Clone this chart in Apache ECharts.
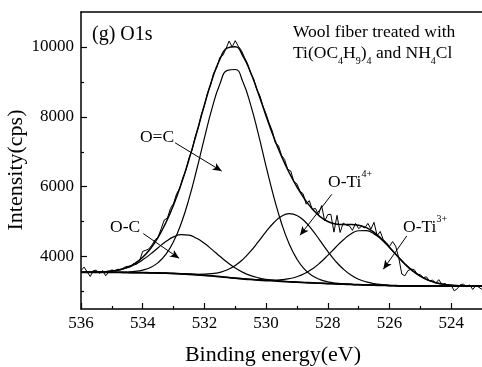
<!DOCTYPE html>
<html>
<head>
<meta charset="utf-8">
<script src="https://cdn.jsdelivr.net/npm/echarts@6/dist/echarts.min.js"></script>
<style>
html,body{margin:0;padding:0;background:#fff;}
#chart{width:482px;height:367px;}
</style>
</head>
<body>
<div id="chart"></div>
<script>
// O1s spectrum: measured counts (0.1 eV steps) and the peak fit (0.25 eV steps)
const rawStart = 536, rawStep = 0.1;
const rawCounts = [
  3600,3700,3560,3430,3600,3610,3520,3600,3450,3560,
  3620,3590,3640,3620,3690,3720,3700,3800,3780,3880,
  4150,4180,4220,4330,4480,4560,4800,5050,5100,5380,
  5520,5800,5950,6250,6470,6820,7050,7420,7680,8060,
  8320,8680,8900,9250,9400,9700,9760,9950,10170,10000,
  10180,10020,9900,9700,9520,9250,9080,8780,8600,8300,
  8080,7820,7600,7250,7180,6900,6780,6500,6450,6150,
  6080,5870,5800,5500,5600,5350,5380,5200,5460,5020,
  5200,5210,4700,5180,4690,4960,4900,4880,4750,4950,
  4800,4870,4820,4950,4790,4980,4600,4720,4480,4400,
  4290,4430,4300,3970,3500,3450,3600,3640,3630,3500,
  3480,3400,3420,3300,3330,3240,3340,3200,3230,3160,
  3180,3020,3080,3200,3210,3140,3190,3060,3170,3120,
  3060
];

const fitStart = 536, fitStep = 0.25;
const background = [3550,3550,3549,3548,3547,3546,3544,3542,3539,3535,3530,3524,3516,3506,3494,3480,3464,3446,3426,3404,3383,3363,3345,3330,3316,3303,3291,3279,3268,3257,3247,3238,3229,3220,3212,3204,3196,3189,3182,3176,3171,3166,3162,3159,3157,3156,3155,3155,3155,3155,3155,3155,3155];
const envelope = [3551,3553,3557,3566,3586,3626,3696,3809,3981,4224,4552,4968,5478,6082,6775,7543,8337,9069,9641,9973,10005,9740,9266,8668,8027,7415,6871,6400,5995,5647,5361,5145,5004,4935,4917,4916,4897,4827,4694,4500,4267,4022,3790,3593,3439,3328,3253,3208,3182,3168,3161,3157,3156];
const peakOdoubleC = [3550,3550,3549,3549,3549,3552,3559,3576,3614,3689,3828,4063,4429,4956,5650,6485,7389,8249,8933,9330,9355,8995,8343,7502,6584,5709,4955,4360,3928,3634,3450,3341,3278,3242,3221,3207,3197,3189,3182,3176,3171,3166,3162,3159,3157,3156,3155,3155,3155,3155,3155,3155,3155];
const peakOC = [3551,3553,3557,3565,3584,3620,3681,3775,3906,4070,4254,4429,4564,4629,4612,4523,4379,4200,4010,3828,3673,3549,3457,3393,3350,3320,3299,3283,3270,3258,3247,3238,3229,3220,3212,3204,3196,3189,3182,3176,3171,3166,3162,3159,3157,3156,3155,3155,3155,3155,3155,3155,3155];
const peakTi4 = [3550,3550,3549,3548,3547,3546,3544,3542,3539,3535,3530,3524,3517,3509,3501,3495,3497,3512,3550,3623,3743,3921,4154,4428,4714,4969,5152,5227,5178,5012,4758,4457,4150,3873,3645,3473,3353,3275,3226,3197,3180,3170,3163,3159,3157,3156,3155,3155,3155,3155,3155,3155,3155];
const peakTi3 = [3550,3550,3549,3548,3547,3546,3544,3542,3539,3535,3530,3524,3516,3506,3494,3480,3464,3446,3426,3404,3383,3364,3347,3335,3327,3326,3338,3367,3423,3514,3647,3823,4034,4260,4475,4644,4739,4741,4650,4479,4258,4018,3789,3593,3439,3328,3253,3208,3182,3168,3161,3157,3156];

const xMajor = [536,534,532,530,528,526,524];
const xMinor = [535,533,531,529,527,525];
const yMajor = [4000,6000,8000,10000];
const yMinor = [3000,5000,7000,9000];

// arrows from each label to its component: [from, to] in (eV, cps)
const arrows = [
  [[532.95,7257],[531.44,6446]],
  [[533.98,4657],[532.82,3951]],
  [[527.87,5780],[528.90,4609]],
  [[525.44,4589],[526.20,3637]]
];

const FONT = '"Liberation Serif","Times New Roman",serif';
const BLACK = '#000';

function pairs(start, step, vals) {
  return vals.map((v, i) => [+(start - i * step).toFixed(2), v]);
}

function fitLine(vals, width) {
  return {
    type: 'line', data: pairs(fitStart, fitStep, vals), showSymbol: false,
    smooth: 0.5,
    lineStyle: {color: BLACK, width: width}, silent: true
  };
}

const plain = v => String(v);

const chart = echarts.init(document.getElementById('chart'), null, {renderer: 'canvas'});

const xBase = {type: 'value', min: 523, max: 536, inverse: true, splitLine: {show: false}};
const yBase = {type: 'value', min: 2500, max: 11000, splitLine: {show: false}};

const option = {
  animation: false,
  backgroundColor: '#fff',
  grid: {left: 81, right: 0, top: 12, bottom: 58, containLabel: false},
  xAxis: [
    Object.assign({}, xBase, {
      position: 'bottom',
      axisLine: {show: true, lineStyle: {color: BLACK, width: 1.5}},
      axisTick: {show: true, inside: true, length: 6, customValues: xMajor, lineStyle: {color: BLACK, width: 1.2}},
      axisLabel: {show: true, customValues: xMajor, formatter: plain, color: BLACK, fontSize: 17, fontFamily: FONT, margin: 6}
    }),
    Object.assign({}, xBase, {
      position: 'bottom',
      axisLine: {show: false},
      axisTick: {show: true, inside: true, length: 3, customValues: xMinor, lineStyle: {color: BLACK, width: 1.2}},
      axisLabel: {show: false}
    }),
    Object.assign({}, xBase, {
      position: 'top',
      axisLine: {show: true, lineStyle: {color: BLACK, width: 1.5}},
      axisTick: {show: false},
      axisLabel: {show: false}
    })
  ],
  yAxis: [
    Object.assign({}, yBase, {
      position: 'left',
      axisLine: {show: true, lineStyle: {color: BLACK, width: 1.5}},
      axisTick: {show: true, inside: true, length: 6, customValues: yMajor, lineStyle: {color: BLACK, width: 1.2}},
      axisLabel: {show: true, customValues: yMajor, formatter: plain, color: BLACK, fontSize: 17, fontFamily: FONT, margin: 7}
    }),
    Object.assign({}, yBase, {
      position: 'left',
      axisLine: {show: false},
      axisTick: {show: true, inside: true, length: 3, customValues: yMinor, lineStyle: {color: BLACK, width: 1.2}},
      axisLabel: {show: false}
    })
  ],
  series: [
    {
      type: 'line', data: pairs(rawStart, rawStep, rawCounts), showSymbol: false,
      lineStyle: {color: BLACK, width: 1}, silent: true
    },
    fitLine(envelope, 1.5),
    fitLine(peakOdoubleC, 1.2),
    fitLine(peakOC, 1.2),
    fitLine(peakTi4, 1.2),
    fitLine(peakTi3, 1.2),
    Object.assign(fitLine(background, 1.8), {
      markLine: {
        silent: true, animation: false,
        symbol: ['none', 'arrow'], symbolSize: [6, 9],
        lineStyle: {color: BLACK, width: 1, type: 'solid'},
        label: {show: false},
        emphasis: {disabled: true},
        data: arrows.map(a => [{coord: a[0]}, {coord: a[1]}])
      }
    })
  ],
  graphic: [
    {type: 'text', x: 92, y: 34.5, silent: true,
     style: {text: '(g) O1s', fontSize: 20, fontFamily: FONT, fill: BLACK, align: 'left', verticalAlign: 'middle'}},
    {type: 'text', x: 293, y: 32, silent: true,
     style: {text: 'Wool fiber treated with', fontSize: 17.5, fontFamily: FONT, fill: BLACK, align: 'left', verticalAlign: 'middle'}},
    {type: 'text', x: 293, y: 53, silent: true,
     style: {
       text: '{n|Ti(OC}{s|4}{n|H}{s|9}{n|)}{s|4}{n| and NH}{s|4}{n|Cl}',
       align: 'left', verticalAlign: 'middle',
       rich: {
         n: {fontSize: 17.5, fontFamily: FONT, fill: BLACK, lineHeight: 26},
         s: {fontSize: 10, fontFamily: FONT, fill: BLACK, lineHeight: 10, verticalAlign: 'bottom'}
       }
     }},
    {type: 'text', x: 157, y: 137, silent: true,
     style: {text: 'O=C', fontSize: 17.5, fontFamily: FONT, fill: BLACK, align: 'center', verticalAlign: 'middle'}},
    {type: 'text', x: 110, y: 227, silent: true,
     style: {text: 'O-C', fontSize: 17.5, fontFamily: FONT, fill: BLACK, align: 'left', verticalAlign: 'middle'}},
    {type: 'text', x: 328, y: 182.5, silent: true,
     style: {
       text: '{n|O-Ti}{p|4+}', align: 'left', verticalAlign: 'middle',
       rich: {
         n: {fontSize: 17.5, fontFamily: FONT, fill: BLACK, lineHeight: 26},
         p: {fontSize: 10, fontFamily: FONT, fill: BLACK, lineHeight: 10, verticalAlign: 'top'}
       }
     }},
    {type: 'text', x: 403, y: 227.5, silent: true,
     style: {
       text: '{n|O-Ti}{p|3+}', align: 'left', verticalAlign: 'middle',
       rich: {
         n: {fontSize: 17.5, fontFamily: FONT, fill: BLACK, lineHeight: 26},
         p: {fontSize: 10, fontFamily: FONT, fill: BLACK, lineHeight: 10, verticalAlign: 'top'}
       }
     }},
    {type: 'text', x: 273, y: 355, silent: true,
     style: {text: 'Binding energy(eV)', fontSize: 22, fontFamily: FONT, fill: BLACK, align: 'center', verticalAlign: 'middle'}},
    {type: 'text', x: 16, y: 170, rotation: Math.PI / 2, silent: true,
     style: {text: 'Intensity(cps)', fontSize: 22, fontFamily: FONT, fill: BLACK, align: 'center', verticalAlign: 'middle'}}
  ]
};

chart.setOption(option);
</script>
</body>
</html>
